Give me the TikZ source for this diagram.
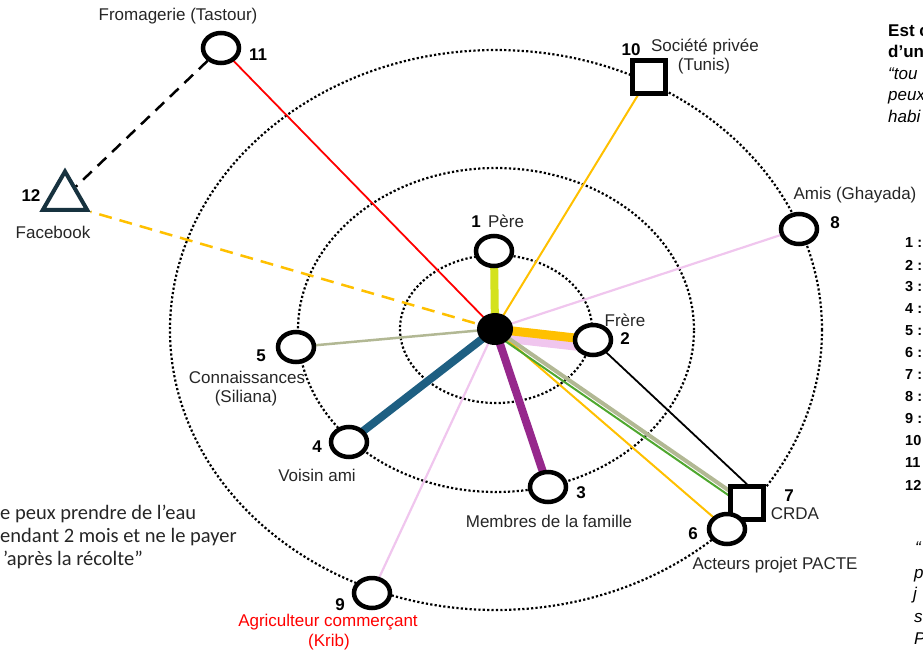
\documentclass[tikz,border=0pt]{standalone}
\usepackage{fontspec}
\setmainfont{Liberation Sans}
\newfontfamily\quotefont{Carlito}
\usetikzlibrary{shapes.geometric}

\definecolor{limeline}{RGB}{212,226,30}
\definecolor{amber}{RGB}{255,192,0}
\definecolor{lilac}{RGB}{240,198,238}
\definecolor{plum}{RGB}{150,40,140}
\definecolor{petrol}{RGB}{30,95,130}
\definecolor{sage}{RGB}{178,184,148}
\definecolor{leaf}{RGB}{78,167,46}
\definecolor{fbnavy}{RGB}{23,50,63}

\pgfdeclarelayer{back}
\pgfdeclarelayer{mid}
\pgfsetlayers{back,mid,main}

\tikzset{
  ring/.style={line width=2.2pt, dash pattern=on 2.2pt off 2.2pt},
  ego/.style={ellipse, fill=black, minimum width=36pt, minimum height=32pt, inner sep=0pt},
  actor/.style={ellipse, draw, line width=4.5pt, fill=white, minimum width=36pt, minimum height=30pt, inner sep=0pt},
  inst/.style={rectangle, draw, line width=4.5pt, fill=white, minimum size=33pt, inner sep=0pt},
  media/.style={regular polygon, regular polygon sides=3, draw=fbnavy, line width=4pt, fill=white, minimum size=51pt, inner sep=0pt},
  lbl/.style={font=\fontsize{17}{20}\selectfont, text=black!85, inner sep=0pt},
  num/.style={font=\fontsize{17}{20}\selectfont\bfseries, inner sep=0pt},
  side/.style={anchor=base west, inner sep=0pt, font=\fontsize{17}{20}\selectfont},
  key/.style={anchor=west, inner sep=0pt, font=\fontsize{14.5}{16}\selectfont\bfseries},
  quote/.style={anchor=west, inner sep=0pt, font=\quotefont\fontsize{20.5}{24}\selectfont, text=black!85},
}

\begin{document}
\begin{tikzpicture}[x=1pt, y=-1pt]
    \useasboundingbox (0,0) rectangle (923,656);

    % circles of closeness
    \begin{pgfonlayer}{back}
        \draw[ring] (496,330) ellipse [x radius=326pt, y radius=280pt];
        \draw[ring] (496,330) ellipse [x radius=198pt, y radius=162pt];
        \draw[ring] (496,329) ellipse [x radius=96pt, y radius=74pt];
    \end{pgfonlayer}

    \node[ego] (ego) at (495,329) {};

    \node[actor] (n1) at (494,251) {};
    \node[num] (k1) at (476,222) {1}; \node[lbl] (t1) at (506,221) {Père};
    \node[actor] (n2) at (593,340) {};
    \node[num] (k2) at (625,339) {2}; \node[lbl] (t2) at (625,320) {Frère};
    \node[actor] (n3) at (548,487) {};
    \node[num] (k3) at (581,493) {3}; \node[lbl] (t3) at (549,521) {Membres de la famille};
    \node[actor] (n4) at (349,442) {};
    \node[num] (k4) at (317,447) {4}; \node[lbl] (t4) at (317,475) {Voisin ami};
    \node[actor] (n5) at (296,347) {};
    \node[num] (k5) at (261,356) {5}; \node[lbl] (t5) at (247,377) {Connaissances};
    \node[lbl] (t5b) at (246,398) {(Siliana)};
    \node[inst] (n7) at (747,503) {};
    \node[num] (k7) at (789,496) {7}; \node[lbl] (t7) at (795,514) {CRDA};
    \node[actor] (n6) at (727,529) {};
    \node[num] (k6) at (693,534) {6}; \node[lbl] (t6) at (775,565) {Acteurs projet PACTE};
    \node[actor] (n8) at (799,229) {};
    \node[num] (k8) at (835,223) {8}; \node[lbl] (t8) at (855,195) {Amis (Ghayada)};
    \node[actor] (n9) at (372,593) {};
    \node[num] (k9) at (340,605) {9};
    \node[lbl, text=red] (t9) at (328,622) {Agriculteur commerçant};
    \node[lbl, text=red] (t9b) at (329,642) {(Krib)};
    \node[inst] (n10) at (649,77) {};
    \node[num] (k10) at (631,50) {10}; \node[lbl] (t10) at (705,47) {Société privée};
    \node[lbl] (t10b) at (704,66) {(Tunis)};
    \node[actor] (n11) at (221,48) {};
    \node[num] (k11) at (258,55) {11}; \node[lbl] (t11) at (178,16) {Fromagerie (Tastour)};
    \node[media] (n12) at (65,197) {};
    \node[num] (k12) at (31,196) {12}; \node[lbl] (t12) at (53,232) {Facebook};

    % ties
    \begin{pgfonlayer}{mid}
        \draw[limeline, line width=8pt] (ego.center) -- (n1.center);
        \draw[lilac, line width=9pt] ([yshift=-8pt]ego.center) -- ([yshift=-8pt]n2.center);
        \draw[amber, line width=9pt] (ego.center) -- (n2.center);
        \draw[plum, line width=8pt] (ego.center) -- (n3.center);
        \draw[petrol, line width=8pt] (ego.center) -- (n4.center);
        \draw[sage, line width=2.5pt] (ego.center) -- (n5.center);
        \draw[amber, line width=2pt] (ego.center) -- (n6.center);
        \draw[sage, line width=4pt] (ego.center) -- (n7.center);
        \draw[leaf, line width=2pt] ([yshift=-5pt]ego.center) -- ([yshift=-5pt]n7.center);
        \draw[lilac, line width=2.2pt] (ego.center) -- (n8.center);
        \draw[lilac, line width=2.2pt] (ego.center) -- (n9.center);
        \draw[amber, line width=2pt] (ego.center) -- (n10.center);
        \draw[red, line width=1.8pt] (ego.center) -- (n11.center);
        \draw[amber, line width=2.5pt, dash pattern=on 13pt off 8pt] (ego.center) -- (n12.corner 3);
        \draw[line width=1.8pt] (n2.center) -- (n7.north);
        \draw[line width=2.5pt, dash pattern=on 12pt off 8pt] (n11) -- (n12);
    \end{pgfonlayer}

    % quotes and legend (cut at the edges)
    \node[quote] (q1) at (0,514) {e peux prendre de l’eau};
    \node[quote] (q2) at (0,537) {endant 2 mois et ne le payer};
    \node[quote] (q3) at (3,560) {’après la récolte”};

    \node[side, font=\fontsize{17}{20}\selectfont\bfseries] (r1) at (888,36) {Est c};
    \node[side, font=\fontsize{17}{20}\selectfont\bfseries] (r2) at (888,57) {d’un};
    \node[side, font=\fontsize{17}{20}\selectfont\itshape] (r3) at (888,79) {“tou};
    \node[side, font=\fontsize{17}{20}\selectfont\itshape] (r4) at (888,100) {peux};
    \node[side, font=\fontsize{17}{20}\selectfont\itshape] (r5) at (888,122) {habi};

    \foreach \i in {1,...,12}
        \node[key] (m\i) at (905,{221+22*\i}) {\i\ :};

    \node[side, font=\fontsize{17}{20}\selectfont\itshape] (s1) at (915,553) {“};
    \node[side, font=\fontsize{17}{20}\selectfont\itshape] (s2) at (914,578) {p};
    \node[side, font=\fontsize{17}{20}\selectfont\itshape] (s3) at (913,599) {j};
    \node[side, font=\fontsize{17}{20}\selectfont\itshape] (s4) at (914,622) {s};
    \node[side, font=\fontsize{17}{20}\selectfont\itshape] (s5) at (914,644) {P};
\end{tikzpicture}
\end{document}
